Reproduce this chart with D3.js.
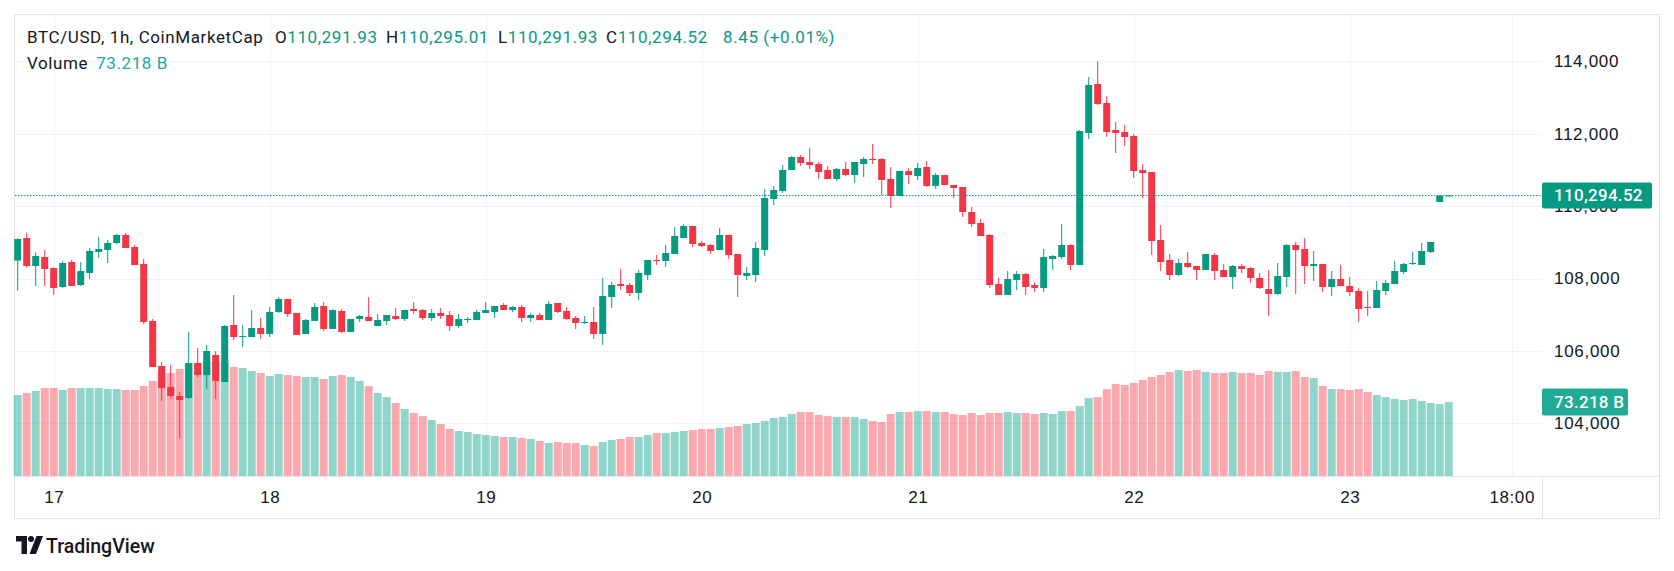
<!DOCTYPE html>
<html>
<head>
<meta charset="utf-8">
<script src="https://cdn.jsdelivr.net/npm/d3@7.9.0/dist/d3.min.js"></script>
<style>
  html, body { margin: 0; padding: 0; background: #fff; }
  svg { display: block; font-family: Roboto, "Noto Sans", sans-serif; }
</style>
</head>
<body>
<svg id="chart" width="1674" height="571"></svg>
<script>
// hourly candles, first one is Oct 16 20:00
const firstCandle = Date.UTC(2025, 9, 16, 20);

const opens = [
  108493, 109119, 108345, 108594, 108290, 107765, 108456, 107820, 108152, 108732,
  108787, 108981, 109202, 108870, 108400, 106826, 105583, 105003, 104754, 104699,
  105666, 105334, 105887, 105141, 106715, 106384, 106384, 106633, 106467, 107075,
  107434, 107047, 106467, 106826, 107240, 106605, 107102, 106522, 106881, 106936,
  106688, 106826, 106964, 106881, 107158, 107130, 106909, 107047, 106992, 106688,
  106863, 106854, 107047, 107075, 107268, 107130, 107213, 106909, 106992, 106854,
  107323, 107102, 106909, 106771, 106798, 106467, 107489, 107848, 107820, 107599,
  108096, 108511, 108483, 108677, 109119, 109450, 108981, 108925, 108787, 109202,
  108677, 108069, 108096, 108787, 110196, 110417, 110997, 111356, 111218, 111163,
  110997, 110749, 111025, 110859, 111163, 111301, 111301, 110749, 110279, 110970,
  110831, 111080, 110555, 110859, 110583, 110528, 109837, 109533, 109202, 107848,
  107544, 107959, 108124, 107820, 107738, 108539, 108594, 108925, 108373, 112019,
  113373, 112848, 112102, 112047, 111936, 110997, 110942, 109063, 108511, 108096,
  108428, 108345, 108235, 108649, 108235, 108041, 108345, 108290, 108014, 107710,
  107572, 108041, 108925, 108815, 108345, 108401, 107765, 107986, 107793, 107655,
  107213, 107185, 107655, 107848, 108180, 108401, 108373, 108732, 110114, 110291.93
];
const highs = [
  109110, 109266, 108714, 108787, 108308, 108483, 108511, 108456, 108842, 109146,
  109063, 109229, 109257, 108925, 108539, 106881, 105693, 105610, 104865, 106522,
  106080, 106163, 105997, 106715, 107544, 106715, 107130, 106909, 107213, 107489,
  107434, 107047, 106881, 107323, 107351, 107158, 107158, 106881, 106992, 107489,
  107019, 106992, 107185, 107130, 107351, 107158, 107158, 107185, 107102, 107019,
  106936, 107130, 107351, 107240, 107323, 107240, 107268, 107047, 107047, 107379,
  107323, 107213, 106964, 106964, 107213, 108014, 107903, 108262, 107876, 108235,
  108511, 108649, 108925, 109422, 109505, 109450, 109036, 108953, 109395, 109202,
  108677, 108318, 109008, 110472, 110555, 111135, 111384, 111412, 111605, 111218,
  111108, 111052, 111218, 111218, 111356, 111715, 111329, 111080, 110970, 111052,
  111190, 111246, 110914, 110859, 110583, 110528, 109975, 109644, 109229, 108014,
  108207, 108207, 108152, 107903, 108815, 108649, 109505, 108953, 112102, 113566,
  114008, 113041, 112323, 112240, 111992, 111163, 110942, 109478, 108677, 108539,
  108732, 108345, 108677, 108704, 108401, 108373, 108401, 108318, 108152, 108235,
  108428, 108953, 109008, 109119, 108760, 108401, 108207, 108373, 108041, 107738,
  107655, 107931, 107959, 108483, 108428, 108732, 108981, 109008, 110298, 110295.01
];
const lows = [
  107664, 108308, 107793, 107793, 107544, 107738, 107793, 107793, 107986, 108566,
  108428, 108953, 108842, 108373, 106743, 105555, 104616, 104690, 103594, 104671,
  105279, 104947, 104671, 105141, 106301, 106108, 106384, 106329, 106384, 107047,
  106936, 106440, 106467, 106826, 106550, 106605, 106495, 106522, 106798, 106826,
  106688, 106715, 106854, 106826, 107019, 106854, 106826, 106881, 106550, 106633,
  106771, 106854, 107047, 106909, 107130, 107075, 106798, 106798, 106854, 106854,
  107047, 106854, 106605, 106743, 106329, 106163, 107185, 107682, 107516, 107406,
  107959, 108373, 108318, 108677, 109119, 108870, 108870, 108677, 108787, 108539,
  107489, 107959, 107903, 108621, 110030, 110362, 110997, 111108, 111025, 110749,
  110749, 110693, 110831, 110638, 110804, 111163, 110307, 109948, 110279, 110611,
  110721, 110528, 110472, 110583, 110224, 109699, 109422, 109174, 107738, 107544,
  107544, 107682, 107544, 107627, 107627, 108235, 108539, 108235, 108373, 111853,
  112793, 111909, 111467, 111660, 110776, 110224, 108649, 108207, 107959, 108069,
  108290, 107959, 108235, 107959, 108041, 107710, 108152, 107876, 107710, 106964,
  107544, 107765, 107572, 107848, 107931, 107627, 107516, 107793, 107516, 106798,
  106964, 107185, 107544, 107848, 108124, 108373, 108373, 108704, 110114, 110291.93
];
const closes = [
  109091, 108345, 108621, 108262, 107738, 108428, 107793, 108207, 108760, 108815,
  108981, 109202, 108842, 108373, 106798, 105555, 104975, 104754, 104644, 105666,
  105334, 105997, 105169, 106688, 106384, 106411, 106633, 106467, 107075, 107434,
  107019, 106440, 106854, 107213, 106605, 107130, 106522, 106881, 106964, 106826,
  106854, 106992, 106881, 107130, 107102, 106909, 107047, 106964, 106688, 106881,
  106881, 107075, 107130, 107240, 107130, 107213, 106909, 106992, 106854, 107296,
  107075, 106881, 106771, 106798, 106467, 107516, 107820, 107793, 107599, 108152,
  108511, 108483, 108704, 109174, 109450, 108953, 108898, 108760, 109202, 108649,
  108096, 108152, 108842, 110224, 110445, 110997, 111356, 111190, 111135, 110942,
  110749, 111025, 110859, 111218, 111301, 111283, 110721, 110279, 110970, 110859,
  111052, 110555, 110859, 110583, 110500, 109837, 109505, 109174, 107820, 107544,
  107986, 108124, 107765, 107738, 108594, 108621, 108925, 108373, 112074, 113346,
  112820, 112047, 112019, 111909, 110970, 110914, 109036, 108456, 108096, 108428,
  108318, 108235, 108677, 108207, 108041, 108345, 108262, 108014, 107738, 107572,
  108069, 108925, 108787, 108345, 108401, 107765, 107986, 107793, 107627, 107158,
  107185, 107682, 107876, 108207, 108401, 108428, 108760, 109008, 110286.07, 110294.52
];
// volume in billions USD
const volumes = [
  80.1, 82.1, 84.1, 87.0, 87.0, 85.1, 87.0, 87.0, 87.0, 87.0,
  86.0, 86.0, 85.1, 85.1, 89.0, 94.0, 101.9, 101.9, 105.8, 110.8,
  111.8, 113.7, 113.7, 111.8, 107.8, 106.8, 103.8, 101.9, 98.9, 100.9,
  99.9, 98.9, 97.9, 97.9, 95.9, 98.9, 99.9, 97.9, 94.0, 89.0,
  82.1, 78.1, 72.2, 66.3, 62.3, 59.3, 55.4, 51.4, 46.5, 44.5,
  43.5, 41.5, 40.5, 39.6, 38.6, 38.6, 37.6, 36.6, 34.6, 32.6,
  33.6, 32.6, 32.6, 30.7, 29.7, 33.6, 35.6, 36.6, 38.6, 38.6,
  40.5, 42.5, 42.5, 43.5, 44.5, 45.5, 46.5, 46.5, 47.5, 48.5,
  49.5, 51.4, 52.4, 54.4, 57.4, 58.4, 61.3, 63.3, 63.3, 60.3,
  59.3, 58.4, 58.4, 58.4, 56.4, 54.4, 53.4, 61.3, 63.3, 63.3,
  64.3, 64.3, 63.3, 63.3, 61.3, 60.3, 62.3, 60.3, 62.3, 62.3,
  63.3, 62.3, 62.3, 61.3, 62.3, 61.3, 64.3, 64.3, 69.2, 77.1,
  78.1, 86.0, 91.0, 90.0, 92.0, 94.9, 97.9, 99.9, 102.9, 104.8,
  103.8, 104.8, 102.9, 101.9, 101.9, 102.9, 101.9, 101.9, 99.9, 103.8,
  102.9, 102.9, 103.8, 97.9, 96.9, 89.0, 86.0, 86.0, 85.1, 86.0,
  83.1, 80.1, 78.1, 76.2, 75.2, 76.2, 74.2, 72.2, 71.2, 73.218
];

const priceTicks = [104000, 106000, 108000, 110000, 112000, 114000];
const timeTicks = [17, 18, 19, 20, 21, 22, 23].map((d) => new Date(Date.UTC(2025, 9, d)))
  .concat([new Date(Date.UTC(2025, 9, 23, 18))]);

const lastPrice = 110294.52;
const lastVolume = 73.218;

const GREEN = '#089981';
const RED = '#F23645';
const VOL_GREEN = 'rgba(34,171,148,0.5)';
const VOL_RED = 'rgba(247,82,95,0.5)';
const TEXT = '#131722';
const GRID = '#f0f3fa';
const BORDER = '#e0e3eb';

const plotLeft = 15, plotRight = 1542, plotTop = 15, plotBottom = 476;
const frameRight = 1659, frameBottom = 518;

const candles = opens.map((o, i) => ({
    time: new Date(firstCandle + i * 3600 * 1000),
    open: o, high: highs[i], low: lows[i], close: closes[i], volume: volumes[i],
}));

const x = d3.scaleUtc()
    .domain([Date.UTC(2025, 9, 17), Date.UTC(2025, 9, 23, 18)])
    .range([53.7, 1511.7]);
const y = d3.scaleLinear().domain([104000, 114000]).range([423.3, 61.3]);
const yVol = d3.scaleLinear().domain([0, 100]).range([plotBottom, plotBottom - 101.1]);

const svg = d3.select('#chart');

// frame
svg.append('rect')
    .attr('x', 14.5).attr('y', plotTop - 0.5)
    .attr('width', frameRight - 14).attr('height', frameBottom - plotTop + 1)
    .attr('fill', 'none').attr('stroke', BORDER);

// grid
const grid = svg.append('g');
grid.selectAll('line.h').data(priceTicks).join('line')
    .attr('x1', plotLeft).attr('x2', plotRight)
    .attr('y1', (d) => Math.round(y(d)) + 0.5).attr('y2', (d) => Math.round(y(d)) + 0.5)
    .attr('stroke', GRID);
grid.selectAll('line.v').data(timeTicks).join('line')
    .attr('x1', (d) => Math.round(x(d)) + 0.5).attr('x2', (d) => Math.round(x(d)) + 0.5)
    .attr('y1', plotTop).attr('y2', plotBottom)
    .attr('stroke', GRID);

// volume bars
svg.append('g').selectAll('rect').data(candles).join('rect')
    .attr('x', (d) => x(d.time) - 4)
    .attr('width', 8)
    .attr('y', (d) => yVol(d.volume))
    .attr('height', (d) => yVol(0) - yVol(d.volume))
    .attr('fill', (d) => (d.close >= d.open ? VOL_GREEN : VOL_RED));

// candles
const candleG = svg.append('g').selectAll('g').data(candles).join('g')
    .attr('fill', (d) => (d.close >= d.open ? GREEN : RED));
candleG.append('rect')
    .attr('x', (d) => x(d.time) - 0.5)
    .attr('width', 1)
    .attr('y', (d) => y(d.high))
    .attr('height', (d) => Math.max(1, y(d.low) - y(d.high)));
candleG.append('rect')
    .attr('x', (d) => x(d.time) - 3.5)
    .attr('width', 7)
    .attr('y', (d) => y(Math.max(d.open, d.close)))
    .attr('height', (d) => Math.max(1, Math.abs(y(d.open) - y(d.close))));

// last price line
svg.append('line')
    .attr('x1', plotLeft).attr('x2', plotRight)
    .attr('y1', Math.round(y(lastPrice)) + 0.5).attr('y2', Math.round(y(lastPrice)) + 0.5)
    .attr('stroke', GREEN).attr('stroke-dasharray', '1.5 1.5');

// separators
svg.append('line')
    .attr('x1', plotLeft).attr('x2', frameRight)
    .attr('y1', plotBottom + 0.5).attr('y2', plotBottom + 0.5)
    .attr('stroke', BORDER);
svg.append('line')
    .attr('x1', plotRight + 0.5).attr('x2', plotRight + 0.5)
    .attr('y1', plotBottom).attr('y2', frameBottom)
    .attr('stroke', BORDER);

// price axis
const yAxis = svg.append('g')
    .attr('transform', `translate(${plotRight + 12},0)`)
    .call(d3.axisRight(y).tickValues(priceTicks).tickSize(0).tickPadding(0)
        .tickFormat(d3.format(',')));
yAxis.select('.domain').remove();
yAxis.selectAll('text').attr('fill', TEXT)
    .style('font-size', '17px').style('letter-spacing', '0.7px');

// time axis
const xAxis = svg.append('g')
    .attr('transform', `translate(0,${plotBottom})`)
    .call(d3.axisBottom(x).tickValues(timeTicks).tickSize(0).tickPadding(15)
        .tickFormat((d) => (d.getUTCHours() === 0 ? d3.utcFormat('%-d')(d) : d3.utcFormat('%H:%M')(d))));
xAxis.select('.domain').remove();
xAxis.selectAll('text').attr('fill', TEXT)
    .style('font-size', '17px').style('letter-spacing', '0.6px');

// price and volume labels on the axis
const priceLabel = svg.append('g').attr('transform', `translate(${plotRight},${y(lastPrice)})`);
priceLabel.append('rect')
    .attr('x', 0).attr('y', -13).attr('width', 110).attr('height', 26).attr('rx', 2)
    .attr('fill', GREEN);
priceLabel.append('text')
    .attr('x', 12).attr('dy', '0.35em')
    .attr('fill', '#fff').style('font-size', '17px').style('font-weight', 500)
    .style('letter-spacing', '0.3px')
    .text(d3.format(',.2f')(lastPrice));

const volLabel = svg.append('g').attr('transform', `translate(${plotRight},${yVol(lastVolume)})`);
volLabel.append('rect')
    .attr('x', 0).attr('y', -13.5).attr('width', 86).attr('height', 27).attr('rx', 2)
    .attr('fill', '#22AB94');
volLabel.append('text')
    .attr('x', 12).attr('dy', '0.35em')
    .attr('fill', '#fff').style('font-size', '17px').style('font-weight', 500)
    .style('letter-spacing', '0.3px')
    .text(lastVolume + ' B');

// legend header
const header = svg.append('g').style('font-size', '17px').style('letter-spacing', '0.6px');
header.append('text').attr('x', 27).attr('y', 43).attr('fill', TEXT)
    .text('BTC/USD, 1h, CoinMarketCap');
const last = candles[candles.length - 1];
const prevClose = candles[candles.length - 2].close;
const change = last.close - prevClose;
const ohlc = [
    ['O', d3.format(',.2f')(last.open), 275],
    ['H', d3.format(',.2f')(last.high), 386],
    ['L', d3.format(',.2f')(last.low), 498],
    ['C', d3.format(',.2f')(last.close), 606],
];
ohlc.forEach(([k, v, px]) => {
    const t = header.append('text').attr('x', px).attr('y', 43);
    t.append('tspan').attr('fill', TEXT).text(k);
    t.append('tspan').attr('fill', GREEN).text(v);
});
header.append('text').attr('x', 723).attr('y', 43).attr('fill', GREEN)
    .text(`${change.toFixed(2)} (+${(change / prevClose * 100).toFixed(2)}%)`);
const volText = header.append('text').attr('x', 27).attr('y', 69);
volText.append('tspan').attr('fill', TEXT).text('Volume');
volText.append('tspan').attr('fill', '#22AB94').attr('dx', 8).text(lastVolume + ' B');

// TradingView logo
const logo = svg.append('g').attr('transform', 'translate(16,536)').attr('fill', TEXT);
logo.append('path').attr('d', 'M0 0H11V18H5.5V5.5H0Z');
logo.append('circle').attr('cx', 15).attr('cy', 3).attr('r', 3);
logo.append('path').attr('d', 'M20.5 0H27L20 18H13.5Z');
svg.append('text').attr('x', 46).attr('y', 553)
    .attr('fill', TEXT).style('font-size', '19.5px').style('font-weight', 500)
    .text('TradingView');
</script>
</body>
</html>
